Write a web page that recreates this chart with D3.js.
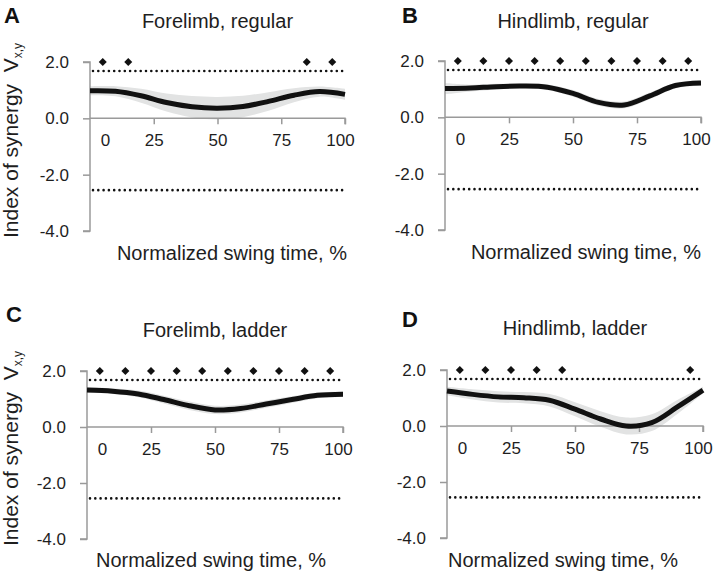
<!DOCTYPE html>
<html>
<head>
<meta charset="utf-8">
<script src="https://cdn.jsdelivr.net/npm/d3@7"></script>
<style>
  html, body { margin: 0; padding: 0; background: #fff; }
  svg { display: block; font-family: "Liberation Sans", Arial, sans-serif; }
</style>
</head>
<body>
<svg id="chart" width="717" height="573"></svg>
<script>
// ---- data ----
const timePct = [0, 10, 20, 30, 40, 50, 60, 70, 80, 90, 100];
const xTicks = [0, 25, 50, 75, 100];
const yTicks = [2.0, 0.0, -2.0, -4.0];
const upperBound = 1.68;
const lowerBound = -2.55;

const meanA = [0.98, 0.96, 0.80, 0.56, 0.41, 0.36, 0.42, 0.60, 0.82, 0.95, 0.85];
const sdA   = [0.16, 0.18, 0.25, 0.32, 0.38, 0.40, 0.38, 0.33, 0.25, 0.18, 0.20];
const meanB = [1.02, 1.04, 1.09, 1.11, 1.07, 0.85, 0.53, 0.44, 0.76, 1.13, 1.22];
const sdB   = [0.20, 0.12, 0.10, 0.08, 0.10, 0.12, 0.12, 0.12, 0.12, 0.10, 0.10];
const meanC = [1.32, 1.28, 1.18, 0.98, 0.76, 0.61, 0.66, 0.82, 0.98, 1.13, 1.17];
const sdC   = [0.10, 0.10, 0.12, 0.14, 0.15, 0.15, 0.14, 0.13, 0.12, 0.10, 0.10];
const meanD = [1.25, 1.13, 1.04, 1.01, 0.92, 0.60, 0.25, 0.00, 0.12, 0.68, 1.28];
const sdD   = [0.15, 0.18, 0.20, 0.20, 0.22, 0.25, 0.28, 0.30, 0.30, 0.25, 0.12];

const sigA = [5, 15, 85, 95];
const sigB = [5, 15, 25, 35, 45, 55, 65, 75, 85, 95];
const sigC = [5, 15, 25, 35, 45, 55, 65, 75, 85, 95];
const sigD = [5, 15, 25, 35, 45, 95];

const titles = ["Forelimb, regular", "Hindlimb, regular", "Forelimb, ladder", "Hindlimb, ladder"];
const letters = ["A", "B", "C", "D"];
const xLabel = "Normalized swing time, %";

// ---- layout ----
const panels = [
  { letter: letters[0], title: titles[0], mean: meanA, sd: sdA, sig: sigA,
    x0: 90, x1: 345, y2: 62, yM4: 231, letterX: 4, letterY: 23, titleY: 28,
    xlabX: 347, xlabY: 260, xlabAnchor: "end", ylab: true },
  { letter: letters[1], title: titles[1], mean: meanB, sd: sdB, sig: sigB,
    x0: 445, x1: 701, y2: 61, yM4: 230, letterX: 402, letterY: 23, titleY: 28,
    xlabX: 701, xlabY: 259, xlabAnchor: "end", ylab: false },
  { letter: letters[2], title: titles[2], mean: meanC, sd: sdC, sig: sigC,
    x0: 87, x1: 343, y2: 371, yM4: 539, letterX: 6, letterY: 322, titleY: 337,
    xlabX: 211, xlabY: 567, xlabAnchor: "middle", ylab: true },
  { letter: letters[3], title: titles[3], mean: meanD, sd: sdD, sig: sigD,
    x0: 447, x1: 703, y2: 370, yM4: 538, letterX: 402, letterY: 327, titleY: 335,
    xlabX: 563, xlabY: 567, xlabAnchor: "middle", ylab: false }
];

const svg = d3.select("#chart");
const axisColor = "#9a9a9a";
const textColor = "#1e1e1e";
const curve = d3.curveCatmullRom.alpha(0.5);

panels.forEach(p => {
  const x = d3.scaleLinear().domain([0, 100]).range([p.x0, p.x1]);
  const y = d3.scaleLinear().domain([-4, 2]).range([p.yM4, p.y2]);
  const g = svg.append("g");
  const pts = timePct.map((t, i) => ({ t, m: p.mean[i], s: p.sd[i] }));

  // band
  g.append("path")
    .datum(pts)
    .attr("fill", "#e2e3e3")
    .attr("d", d3.area().curve(curve)
      .x(d => x(d.t)).y0(d => y(d.m - d.s)).y1(d => y(d.m + d.s)));

  // y axis
  const yAxis = d3.axisLeft(y).tickValues(yTicks).tickSize(7).tickFormat(d => d.toFixed(1));
  const ya = g.append("g").attr("transform", `translate(${p.x0},0)`).call(yAxis);
  ya.select(".domain").attr("stroke", axisColor).attr("stroke-width", 1.5)
    .attr("d", `M-7,${p.y2}H0V${p.yM4}H-7`);
  ya.selectAll(".tick line").attr("stroke", axisColor).attr("stroke-width", 1.5);
  ya.selectAll(".tick text").attr("x", -21).attr("fill", textColor)
    .style("font-size", "17px").style("font-family", "Liberation Sans, Arial, sans-serif");

  // x axis at zero
  const xAxis = d3.axisBottom(x).tickValues(xTicks).tickSize(6).tickFormat(d => String(d));
  const xa = g.append("g").attr("transform", `translate(0,${y(0)})`).call(xAxis);
  xa.select(".domain").attr("stroke", axisColor).attr("stroke-width", 1.5)
    .attr("d", `M${p.x0},0H${p.x1}V6`);
  xa.selectAll(".tick line").attr("stroke", axisColor).attr("stroke-width", 1.5)
    .attr("opacity", d => d === 0 ? 0 : 1);
  xa.selectAll(".tick text").attr("y", 16).attr("fill", textColor)
    .attr("dx", d => d === 0 ? 15 : (d === 100 ? -5 : 0))
    .style("font-size", "17px").style("font-family", "Liberation Sans, Arial, sans-serif");

  // dotted bounds
  [upperBound, lowerBound].forEach(b => {
    g.append("line")
      .attr("x1", p.x0 + 3).attr("x2", p.x1 + 1)
      .attr("y1", y(b)).attr("y2", y(b))
      .attr("stroke", "#111").attr("stroke-width", 2.6)
      .attr("stroke-linecap", "round").attr("stroke-dasharray", "0 5.3");
  });

  // mean line
  g.append("path")
    .datum(pts)
    .attr("fill", "none").attr("stroke", "#111").attr("stroke-width", 5)
    .attr("d", d3.line().curve(curve).x(d => x(d.t)).y(d => y(d.m)));

  // significance diamonds
  g.selectAll("path.sig").data(p.sig).enter().append("path")
    .attr("class", "sig")
    .attr("transform", d => `translate(${x(d)},${y(2)}) rotate(45)`)
    .attr("d", d3.symbol().type(d3.symbolSquare).size(32))
    .attr("fill", "#111");

  // title
  g.append("text").attr("x", (p.x0 + p.x1) / 2).attr("y", p.titleY)
    .attr("text-anchor", "middle").attr("fill", textColor)
    .style("font-size", "20px").text(p.title);

  // letter
  g.append("text").attr("x", p.letterX).attr("y", p.letterY)
    .attr("fill", "#111").style("font-size", "22px").style("font-weight", "bold").text(p.letter);

  // x label
  g.append("text").attr("x", p.xlabX).attr("y", p.xlabY)
    .attr("text-anchor", p.xlabAnchor).attr("fill", textColor)
    .style("font-size", "20px").text(xLabel);

  // y label
  if (p.ylab) {
    const t = g.append("text")
      .attr("transform", `translate(18,${p.yM4 + 7}) rotate(-90)`)
      .attr("fill", textColor).style("font-size", "21px");
    t.append("tspan").text("Index of synergy\u00a0\u00a0V");
    t.append("tspan").attr("dy", 4).style("font-size", "12px").text("x,y");
  }
});
</script>
</body>
</html>
